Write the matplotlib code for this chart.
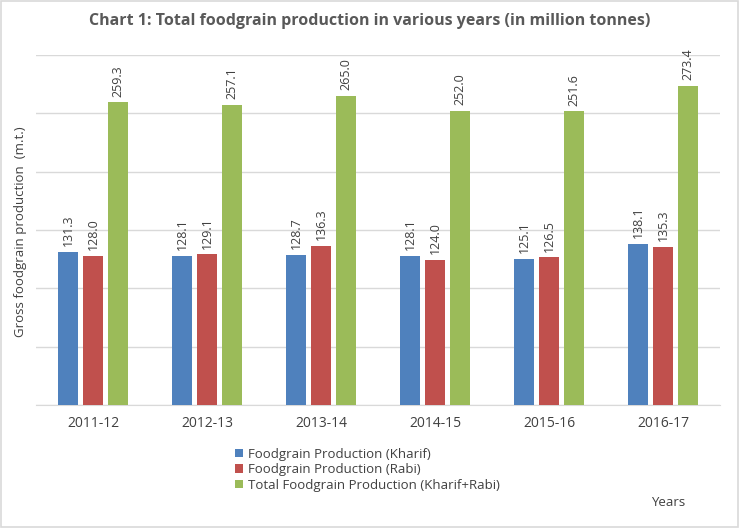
import numpy as np
import matplotlib.pyplot as plt
from matplotlib.patches import Rectangle

years = ["2011-12", "2012-13", "2013-14", "2014-15", "2015-16", "2016-17"]
kharif = [131.3, 128.1, 128.7, 128.1, 125.1, 138.1]
rabi = [128.0, 129.1, 136.3, 124.0, 126.5, 135.3]
total = [259.3, 257.1, 265.0, 252.0, 251.6, 273.4]
labels = ["Foodgrain Production (Kharif)", "Foodgrain Production (Rabi)",
          "Total Foodgrain Production (Kharif+Rabi)"]
colors = ["#4F81BD", "#C0504D", "#9BBB59"]

plt.rcParams['font.family'] = ['Open Sans', 'DejaVu Sans']
txt = "#404040"

fig = plt.figure(figsize=(7.39, 5.28), dpi=100)
fig.patches.append(Rectangle((0.001, 0.001), 0.997, 0.997, transform=fig.transFigure,
                             fill=False, edgecolor="#D9D9D9", linewidth=1.2))
W, H = 739, 528
ax = fig.add_axes([36 / W, 1 - 405 / H, (720 - 36) / W, (405 - 55) / H])

x = np.arange(len(years))
bw = 0.171
step = 0.22
for i, (vals, lab, c) in enumerate(zip([kharif, rabi, total], labels, colors)):
    pos = x + (i - 1) * step
    ax.bar(pos, vals, bw, color=c, label=lab, zorder=3)
    for p, v in zip(pos, vals):
        ax.text(p, v + 5, "%.1f" % v, rotation=90, ha="center", va="bottom",
                fontsize=9, color=txt)

ax.set_xlim(-0.5, len(years) - 0.5)
ax.set_ylim(0, 300)
ax.set_yticks(np.arange(0, 301, 50))
ax.set_yticklabels([])
ax.tick_params(axis="y", length=0)
ax.tick_params(axis="x", length=0, labelsize=10, labelcolor=txt, pad=8)
ax.set_xticks(x)
ax.set_xticklabels(years)
ax.grid(axis="y", color="#D9D9D9", linewidth=1, zorder=0)
for s in ["top", "right", "left"]:
    ax.spines[s].set_visible(False)
ax.spines["bottom"].set_color("#D9D9D9")

fig.text(0.5, 1 - 21 / H, "Chart 1: Total foodgrain production in various years (in million tonnes)",
         ha="center", va="center", fontsize=11.5, fontweight="bold", color="#595959")
fig.text(21 / W, 1 - 232 / H, "Gross foodgrain production  (m.t.)", rotation=90,
         ha="center", va="center", fontsize=9.5, color=txt)
fig.text(668 / W, 1 - 503 / H, "Years", ha="center", va="center", fontsize=9.5, color=txt)

fig.legend(loc="upper left", bbox_to_anchor=(228 / W, 1 - 441 / H), frameon=False,
           fontsize=9.5, labelcolor=txt, handlelength=0.6, handleheight=0.6,
           handletextpad=0.4, labelspacing=0.2, borderpad=0)

fig.savefig("out.png", dpi=100)
